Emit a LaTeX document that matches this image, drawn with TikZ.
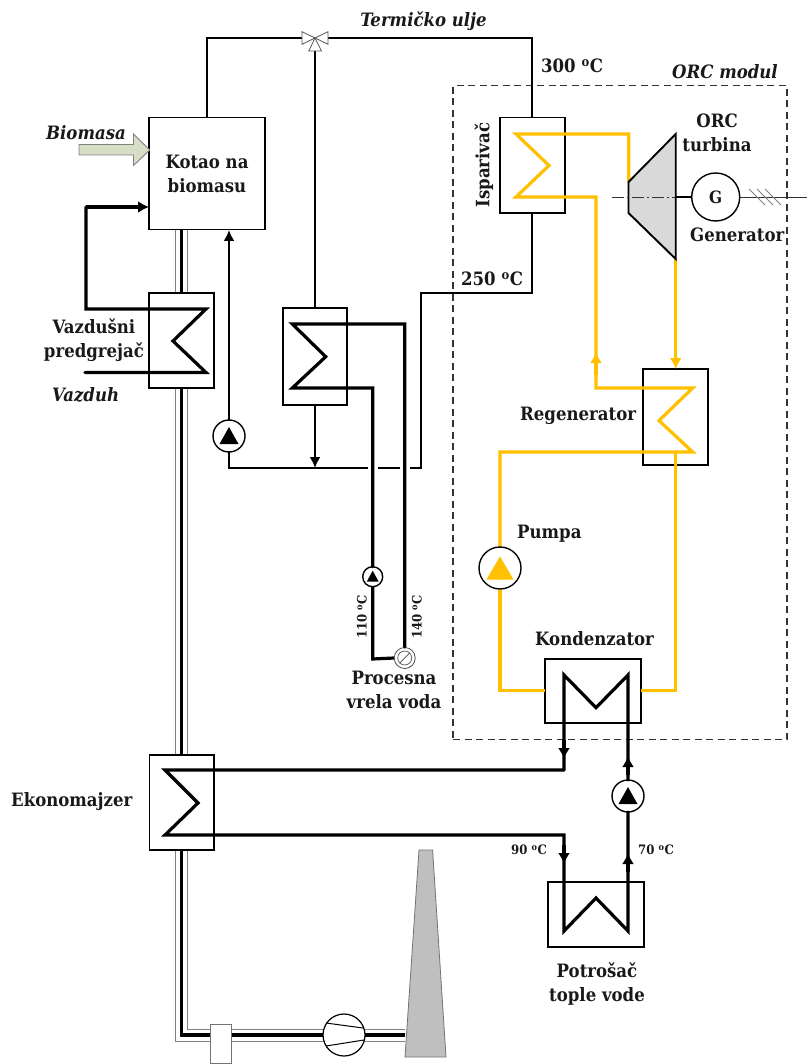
\documentclass[tikz,border=0pt]{standalone}
\usepackage{fontspec}
\setmainfont{DejaVu Serif Condensed}
\usetikzlibrary{arrows.meta,calc}
\definecolor{orc}{HTML}{FFC000}
\definecolor{biofill}{HTML}{D8DEC6}
\tikzset{
  x=1pt,y=-1pt,
  hxbox/.style={draw=black,fill=white,line width=1.9pt,inner sep=0pt,outer sep=0pt},
  lbl/.style={inner sep=0pt,font=\fontsize{18.4}{24}\selectfont\bfseries,align=center,text=black!90},
  ilbl/.style={lbl,font=\fontsize{18.4}{24}\selectfont\bfseries\itshape},
  slbl/.style={lbl,font=\fontsize{13}{16}\selectfont\bfseries},
  oil/.style={draw=black,line width=2pt,line join=miter},
  thick line/.style={draw=black,line width=3.2pt,line join=miter},
  hot/.style={draw=orc,line width=3.2pt,line join=miter},
  flue/.style={draw=black!50,line width=1pt},
  fluecore/.style={draw=black,line width=3.6pt},
  pumpc/.style={circle,draw=black,fill=white,line width=1.4pt,inner sep=0pt,outer sep=0pt},
  tipk/.style={-{Latex[length=11pt,width=12pt]}},
  tips/.style={-{Latex[length=11pt,width=11pt]}},
  tipo/.style={-{Latex[length=11pt,width=12pt]}},
  valvetri/.style={draw=black!65,fill=white,line width=.8pt},
}
\begin{document}
\begin{tikzpicture}
\useasboundingbox (0,0) rectangle (807,1064);
% named junctions
\coordinate (vc) at (315,38);
\coordinate (vb) at (315,51);
\coordinate (oilA) at (229,468);
\coordinate (oilB) at (315,468);
\coordinate (oilC) at (421,468);
\coordinate (oilD) at (421,293);
\coordinate (flueT) at (181.5,229);
\coordinate (flueC) at (181.5,1035);
\coordinate (flueE) at (405,1035);
% dashed module
\node[draw=black!80,dash pattern=on 7pt off 4.5pt,line width=1.2pt,minimum width=334pt,minimum height=653.5pt,inner sep=0pt] (module) at (620,412.5) {};
% flue walls
\draw[flue] (175.3,229) -- (175.3,1041.7) -- (405,1041.7);
\draw[flue] (187.6,229) -- (187.6,1029) -- (405,1029);
\draw[fluecore] (flueT) -- (flueC) -- (flueE);
% equipment
\node[hxbox,minimum width=116pt,minimum height=112pt,lbl] (boiler) at (207,173.5) {Kotao na\\biomasu};
\node[hxbox,minimum width=65pt,minimum height=95pt] (air) at (181.5,340.5) {};
\node[hxbox,minimum width=64.5pt,minimum height=96.5pt] (proc) at (315,356.3) {};
\node[hxbox,minimum width=65pt,minimum height=95.5pt] (evap) at (532.3,165.3) {};
\node[hxbox,minimum width=65pt,minimum height=96pt] (regen) at (675.5,417) {};
\node[hxbox,minimum width=96.5pt,minimum height=64pt] (cond) at (593,691) {};
\node[hxbox,minimum width=64.5pt,minimum height=95.5pt] (econ) at (181.7,802.5) {};
\node[hxbox,minimum width=96pt,minimum height=65pt] (user) at (596,914.5) {};
% thermal oil
\draw[oil] (boiler.north) |- (vc) -- (532.3,38) -- (evap.north);
\draw[oil] (vb) -- (proc.north);
\draw[oil] (evap.south) -- (532.3,293) -- (oilD) -- (oilC) -- (oilA) -- (229,445);
\draw[oil,tips] (229,420) -- (229,230);
\draw[oil,tips] (proc.south) -- (oilB);
% valve
\path[valvetri] (vc) -- (302,31.7) -- (302,44.3) -- cycle;
\path[valvetri] (vc) -- (328,31.7) -- (328,44.3) -- cycle;
\path[valvetri] (vc) -- (308.8,51) -- (321.5,51) -- cycle;
% oil pump
\node[pumpc,minimum size=32pt] (oilpump) at (229,436) {};
\fill ($(oilpump)+(0,-9)$) -- ++(9.5,17) -- ++(-19,0) -- cycle;
% air preheater coil
\draw[thick line,line cap=round] (85,372.5) -- (206,372.5) -- (173,341) -- (206,309) -- (86,309) -- (86,207);
\draw[thick line,tipk] (86,207) -- (boiler.west |- 0,207);
% process hot water
\fill[white] (367.5,461) rectangle (377.5,475);
\fill[white] (399.5,461) rectangle (409.5,475);
\node[pumpc,minimum size=20pt] (ppump) at (372.7,576.7) {};
\node[circle,draw=black!70,fill=white,line width=.8pt,minimum size=21pt,inner sep=0pt] (pvalve) at (404.7,658) {};
\draw[black!60,line width=.8pt] (pvalve) circle (7);
\draw[black!60,line width=.8pt] ($(pvalve)+(-5,5)$) -- ($(pvalve)+(5,-5)$);
\draw[thick line,line cap=round] (pvalve.north) -- (404.7,324) -- (292.3,324) -- (325.7,356.7) -- (292.3,388) -- (372.7,388) -- (ppump.north);
\draw[thick line] (ppump.south) -- (372.7,659) -- (pvalve.west);
\fill ($(ppump)+(0,-6)$) -- ++(6,11) -- ++(-12,0) -- cycle;
% economiser and hot-water loop
\node[pumpc,minimum size=32pt] (wpump) at (628,796) {};
\fill ($(wpump)+(0,-9)$) -- ++(9.5,17) -- ++(-19,0) -- cycle;
\draw[thick line,line cap=round] (564,770) -- (165,770) -- (198,803) -- (165,835) -- (564,835) -- (564,931) -- (596,898) -- (628,931) -- (628,812);
\draw[thick line,line cap=round] (wpump.north) -- (628,675) -- (596,707.7) -- (564,675) -- (564,770);
\draw[thick line,tipk] (564,740) -- (564,759);
\draw[thick line,tipk] (628,775) -- (628,756);
\draw[thick line,tipk] (564,845) -- (564,864);
\draw[thick line,tipk] (628,872) -- (628,853);
% orc loop
\draw[hot,line cap=round] (628.7,182) -- (628.7,134) -- (516,134) -- (549,165.5) -- (516,197) -- (596,197) -- (596,388) -- (692.7,388) -- (659,420.6) -- (692.7,452) -- (500,452) -- (500,548);
\draw[hot,tipo] (596,375) -- (596,352);
\draw[hot] (500,590) -- (500,690.7) -- (cond.west |- 0,690.7);
\draw[hot] (cond.east |- 0,690.7) -- (675.7,690.7) -- (675.7,452);
\draw[hot,tipo] (675.7,259) -- (675.7,369);
\node[pumpc,minimum size=42pt] (opump) at (500,568) {};
\fill[orc] ($(opump)+(0,-11.5)$) -- ++(13.5,23) -- ++(-27,0) -- cycle;
% turbine and generator
\draw[fill=black!15,line width=1.9pt,line join=miter] (628.5,182) -- (675.7,134) -- (675.7,259) -- (628.5,213) -- cycle;
\node[pumpc,minimum size=48pt,lbl,draw=black,font=\fontsize{17}{18}\selectfont\bfseries] (gen) at (715.7,197) {G};
\draw[black!80,line width=.9pt,dash pattern=on 12pt off 3pt on 2pt off 3pt] (611.7,197) -- (675,197);
\draw[line width=2.4pt] (675.7,197) -- (gen.west);
\coordinate (gridend) at (807,197);
\draw[black!80,line width=.9pt] (gen.east) -- (gridend);
\foreach \d in {0,8,16} \draw[black!50,line width=.9pt] (749+\d,189) -- (765+\d,205);
% stack, fan, filter
\draw[black!55,fill=black!25,line width=.8pt] (419,850) -- (432.6,850) -- (446,1057) -- (405,1057) -- cycle;
\node[draw=black!55,fill=white,line width=.9pt,minimum width=21pt,minimum height=39pt,inner sep=0pt] (filter) at (220.5,1043.5) {};
\node[circle,draw=black,fill=white,line width=1.2pt,minimum size=42pt,inner sep=0pt] (fan) at (344,1035) {};
\draw[line width=1pt] (326,1023) -- (363,1028);
\draw[line width=1pt] (326,1046) -- (364,1040);
% biomass arrow
\path[draw=black!50,fill=biofill,line width=.9pt] (79,144.5) -- (133.5,144.5) -- (133.5,134) -- (149.7,150) -- (133.5,165.5) -- (133.5,155) -- (79,155) -- cycle;
% labels
\node[ilbl] (t1) at (423.5,21) {Termičko ulje};
\node[lbl,anchor=west] (t2) at (541,66) {300 \textsuperscript{o}C};
\node[ilbl,anchor=west] (t3) at (672,72) {ORC modul};
\node[lbl,rotate=90] (t4) at (484,165) {Isparivač};
\node[lbl] (t5) at (717,133) {ORC\\turbina};
\node[lbl,anchor=west] (t6) at (690,235) {Generator};
\node[lbl,anchor=west] (t7) at (461,279) {250 \textsuperscript{o}C};
\node[lbl,anchor=west] (t8) at (520,416) {Regenerator};
\node[lbl,anchor=west] (t9) at (517,534) {Pumpa};
\node[lbl,anchor=west] (t10) at (535,639) {Kondenzator};
\node[lbl] (t11) at (394,690) {Procesna\\vrela voda};
\node[slbl,rotate=90] (t12) at (362,617) {110 \textsuperscript{o}C};
\node[slbl,rotate=90] (t13) at (417,617) {140 \textsuperscript{o}C};
\node[lbl,anchor=west] (t14) at (11,802) {Ekonomajzer};
\node[slbl,anchor=west] (t15) at (511,850) {90 \textsuperscript{o}C};
\node[slbl,anchor=west] (t16) at (638,850) {70 \textsuperscript{o}C};
\node[lbl] (t17) at (597,984) {Potrošač\\tople vode};
\node[ilbl,anchor=west] (t18) at (46,133) {Biomasa};
\node[lbl] (t19) at (94,340) {Vazdušni\\predgrejač};
\node[ilbl,anchor=west] (t20) at (52,395) {Vazduh};
\end{tikzpicture}
\end{document}
